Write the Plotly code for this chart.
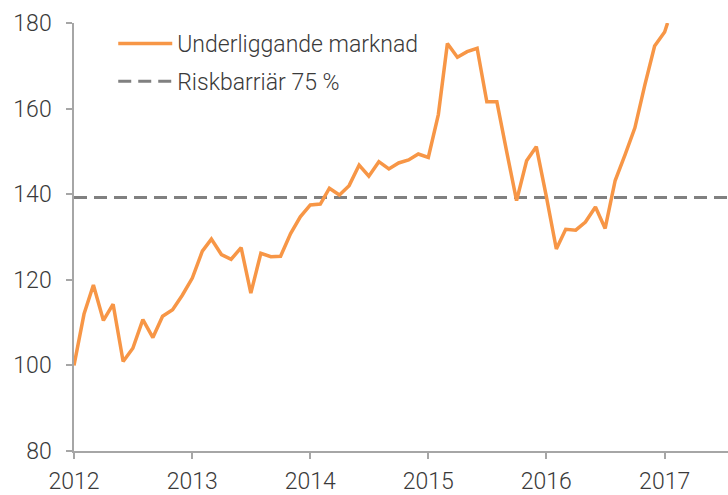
import plotly.graph_objects as go

# Monthly observations, Jan 2012 .. Jan 2017 (plus final point)
dates = [f"{2012 + i // 12}-{i % 12 + 1:02d}-01" for i in range(61)] + ["2017-01-10"]
values = [
    100.0, 112.0, 118.8, 110.5, 114.3, 100.9, 104.0, 110.7, 106.5, 111.5, 113.0, 116.4,
    120.4, 126.7, 129.5, 125.9, 124.8, 127.5, 116.9, 126.2, 125.4, 125.5, 130.8, 134.7,
    137.5, 137.7, 141.4, 139.8, 142.0, 146.8, 144.2, 147.6, 145.9, 147.3, 148.0, 149.4,
    148.6, 158.6, 175.2, 172.0, 173.3, 174.1, 161.6, 161.6, 149.7, 138.5, 147.8, 151.1,
    139.5, 127.2, 131.8, 131.6, 133.5, 137.0, 132.0, 143.2, 149.3, 155.5, 165.6, 174.6,
    177.9, 180.0,
]
barrier_level = 139.2
x_range = ["2012-01-01", "2017-07-16"]
series_name = "Underliggande marknad"
barrier_name = "Riskbarriär 75 %"
year_ticks = ["2012-01-01", "2013-01-01", "2014-01-01", "2015-01-01", "2016-01-01", "2017-01-01"]
year_labels = ["2012", "2013", "2014", "2015", "2016", "2017"]
y_ticks = [80, 100, 120, 140, 160, 180]

FONT = "Roboto"
TXT = "#3a3a3a"
AX = "#a6a6a6"
fnt = dict(family=FONT, size=23, color=TXT, weight=300)

fig = go.Figure()
fig.add_trace(go.Scatter(
    x=x_range, y=[barrier_level, barrier_level], mode="lines", name=barrier_name,
    line=dict(color="#808080", width=3, dash="13px,7px"), legend="legend2",
))
fig.add_trace(go.Scatter(
    x=dates, y=values, mode="lines", name=series_name,
    line=dict(color="#F79646", width=3.5), legend="legend",
))

fig.update_layout(
    width=728, height=495,
    margin=dict(l=74, r=0, t=23, b=41),
    paper_bgcolor="white", plot_bgcolor="white",
    font=fnt,
    showlegend=True,
    legend=dict(x=0.06, y=0.952, xanchor="left", yanchor="middle",
                bgcolor="rgba(0,0,0,0)", font=fnt, itemwidth=54),
    legend2=dict(x=0.06, y=0.864, xanchor="left", yanchor="middle",
                 bgcolor="rgba(0,0,0,0)", font=fnt, itemwidth=54),
    xaxis=dict(
        type="date", range=x_range, tickvals=year_ticks, ticktext=year_labels,
        showgrid=False, zeroline=False, showline=True, linecolor=AX, linewidth=1.5,
        ticks="outside", ticklen=6, tickcolor=AX, tickwidth=1.5,
        tickfont=fnt, ticklabelstandoff=3,
    ),
    yaxis=dict(
        range=[80, 180], tickvals=y_ticks,
        showgrid=False, zeroline=False, showline=True, linecolor=AX, linewidth=1.5,
        ticks="outside", ticklen=6, tickcolor=AX, tickwidth=1.5,
        tickfont=fnt, ticklabelstandoff=10,
    ),
)
fig.update_traces(cliponaxis=False)

fig.write_html("out.html")
